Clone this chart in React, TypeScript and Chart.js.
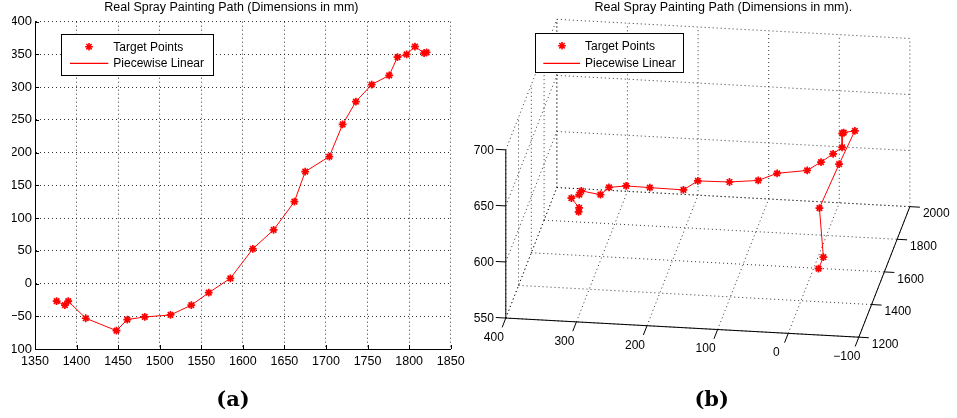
import React, { useEffect, useRef } from 'react';
import { Chart, registerables } from 'chart.js';

Chart.register(...registerables);

// ---------------- data ----------------
const TITLE_A = 'Real Spray Painting Path (Dimensions in mm)';
const TITLE_B = 'Real Spray Painting Path (Dimensions in mm).';
const LEGEND_LABELS = ['Target Points', 'Piecewise Linear'];
const CAPTIONS = ['(a)', '(b)'];

// horizontal coordinate in (a) = depth axis in (b)
const pathX = [1376, 1386, 1390, 1411, 1448, 1461, 1482, 1513, 1538, 1559, 1585, 1612, 1637, 1662, 1675, 1704, 1720, 1736, 1755, 1776, 1786, 1797, 1807, 1818, 1821];
// vertical coordinate in (a) = front axis in (b)
const pathY = [-27, -33, -27, -53, -72, -55, -51, -48, -33, -14, 8, 53, 82, 125, 171, 194, 243, 278, 304, 318, 346, 350, 362, 352, 353];
// height in (b)
const pathZ = [583, 592, 635, 672, 697, 693, 689, 672, 662, 651, 639, 631, 620, 613.5, 611, 598, 596, 594, 589, 579, 580, 575, 570, 560, 556];

const A_X_RANGE = [1350, 1850];
const A_Y_RANGE = [-100, 400];
const A_STEP = 50;

const B_X_TICKS = [400, 300, 200, 100, 0, -100];
const B_D_TICKS = [1200, 1400, 1600, 1800, 2000];
const B_Z_TICKS = [550, 600, 650, 700];

// ---------------- styles ----------------
const RED = '#ff0000';
const GRID = 'rgba(0,0,0,0.8)';
const FONT = "'Liberation Sans', Arial, Helvetica, sans-serif";
const W_A = 470;
const W_B = 487;
const H = 418;
const TITLE_SIZE = 12.5;
const TITLE_PAD_BOTTOM = 6.7;
const TITLE_H = TITLE_SIZE * 1.2 + TITLE_PAD_BOTTOM;
const B_PAD_LEFT = 19.6;

const minus = (v: number) => (v < 0 ? '\u2212' + Math.abs(v) : String(v));

// ---------------- 3D projection for (b) ----------------
const X3 = [-100, 400];
const D3 = [1200, 2000];
const Z3 = [550, 700];
const P0 = [36, 322.3]; // screen position of corner (x=400, d=1200, z=550)
const UX = [-0.7146, -0.0388];
const UD = [0.0646, -0.1655];
const UZ = [0, -1.1373];
function project(x: number, d: number, z: number) {
  const dx = x - X3[1];
  const dd = d - D3[0];
  const dz = z - Z3[0];
  return {
    x: P0[0] + dx * UX[0] + dd * UD[0] + dz * UZ[0],
    y: P0[1] + dx * UX[1] + dd * UD[1] + dz * UZ[1],
  };
}
function unit(v: number[], s: number) {
  const l = Math.hypot(v[0], v[1]);
  return [(v[0] / l) * s, (v[1] / l) * s];
}

function drawStar(ctx: CanvasRenderingContext2D, x: number, y: number, r: number) {
  ctx.beginPath();
  ctx.moveTo(x - r, y);
  ctx.lineTo(x + r, y);
  ctx.moveTo(x, y - r);
  ctx.lineTo(x, y + r);
  const k = r * Math.SQRT1_2;
  ctx.moveTo(x - k, y - k);
  ctx.lineTo(x + k, y + k);
  ctx.moveTo(x - k, y + k);
  ctx.lineTo(x + k, y - k);
  ctx.stroke();
}

function legendPlugin(box: number[], markX: number, textX: number, rows: number[], line: number[]) {
  return {
    id: 'boxLegend',
    afterDatasetsDraw(chart: any) {
      const ctx = chart.ctx as CanvasRenderingContext2D;
      ctx.save();
      ctx.fillStyle = '#fff';
      ctx.fillRect(box[0], box[1], box[2] - box[0], box[3] - box[1]);
      ctx.strokeStyle = '#000';
      ctx.lineWidth = 1;
      ctx.strokeRect(box[0], box[1], box[2] - box[0], box[3] - box[1]);
      ctx.strokeStyle = RED;
      ctx.lineWidth = 1.6;
      drawStar(ctx, markX, rows[0], 3.8);
      ctx.lineWidth = 1.3;
      ctx.beginPath();
      ctx.moveTo(line[0], rows[1] - 0.2);
      ctx.lineTo(line[1], rows[1] - 0.2);
      ctx.stroke();
      ctx.fillStyle = '#000';
      ctx.font = `12px ${FONT}`;
      ctx.textAlign = 'left';
      ctx.textBaseline = 'middle';
      ctx.fillText(LEGEND_LABELS[0], textX, rows[0] + 0.5);
      ctx.fillText(LEGEND_LABELS[1], textX, rows[1] + 0.5);
      ctx.restore();
    },
  };
}

const insideTicks = {
  id: 'insideTicks',
  afterDatasetsDraw(chart: any) {
    const { ctx, chartArea } = chart;
    const sx = chart.scales.x;
    const sy = chart.scales.y;
    ctx.save();
    ctx.strokeStyle = '#000';
    ctx.lineWidth = 1;
    ctx.beginPath();
    for (let v = A_X_RANGE[0]; v <= A_X_RANGE[1]; v += A_STEP) {
      const p = Math.round(sx.getPixelForValue(v)) + 0.5;
      ctx.moveTo(p, chartArea.bottom);
      ctx.lineTo(p, chartArea.bottom - 4);
    }
    for (let v = A_Y_RANGE[0]; v <= A_Y_RANGE[1]; v += A_STEP) {
      const p = Math.round(sy.getPixelForValue(v)) + 0.5;
      ctx.moveTo(chartArea.left, p);
      ctx.lineTo(chartArea.left + 4, p);
    }
    ctx.stroke();
    ctx.restore();
  },
};

const box3D = {
  id: 'box3D',
  beforeDatasetsDraw(chart: any) {
    const ctx = chart.ctx as CanvasRenderingContext2D;
    const sx = chart.scales.x;
    const sy = chart.scales.y;
    const px = (p: { x: number; y: number }) => [sx.getPixelForValue(p.x), sy.getPixelForValue(p.y)];
    const seg = (a: any, b: any) => {
      const A = px(a);
      const B = px(b);
      ctx.moveTo(A[0], A[1]);
      ctx.lineTo(B[0], B[1]);
    };
    ctx.save();
    // dotted grids on floor, back wall, side wall
    ctx.setLineDash([1, 3]);
    ctx.strokeStyle = GRID;
    ctx.lineWidth = 1;
    ctx.beginPath();
    for (const x of B_X_TICKS) {
      seg(project(x, D3[0], Z3[0]), project(x, D3[1], Z3[0]));
      seg(project(x, D3[1], Z3[0]), project(x, D3[1], Z3[1]));
    }
    for (const d of B_D_TICKS) {
      seg(project(X3[1], d, Z3[0]), project(X3[0], d, Z3[0]));
      seg(project(X3[1], d, Z3[0]), project(X3[1], d, Z3[1]));
    }
    for (const z of B_Z_TICKS) {
      seg(project(X3[1], D3[1], z), project(X3[0], D3[1], z));
      seg(project(X3[1], D3[0], z), project(X3[1], D3[1], z));
    }
    ctx.stroke();
    // solid axes
    ctx.setLineDash([]);
    ctx.strokeStyle = '#000';
    ctx.lineWidth = 1;
    ctx.beginPath();
    seg(project(X3[1], D3[0], Z3[0]), project(X3[0], D3[0], Z3[0]));
    seg(project(X3[0], D3[0], Z3[0]), project(X3[0], D3[1], Z3[0]));
    seg(project(X3[1], D3[0], Z3[0]), project(X3[1], D3[0], Z3[1]));
    const tX = unit(UD, -10);
    const tD = unit(UX, -10);
    const tZ = unit(UX, 10);
    const tick = (p: any, t: number[]) => {
      const A = px(p);
      ctx.moveTo(A[0], A[1]);
      ctx.lineTo(A[0] + t[0], A[1] + t[1]);
    };
    for (const x of B_X_TICKS) tick(project(x, D3[0], Z3[0]), tX);
    for (const d of B_D_TICKS) tick(project(X3[0], d, Z3[0]), tD);
    for (const z of B_Z_TICKS) tick(project(X3[1], D3[0], z), tZ);
    ctx.stroke();
    // labels
    ctx.fillStyle = '#000';
    ctx.font = `12px ${FONT}`;
    ctx.textBaseline = 'middle';
    ctx.textAlign = 'center';
    for (const x of B_X_TICKS) {
      const A = px(project(x, D3[0], Z3[0]));
      ctx.fillText(minus(x), A[0] - 12, A[1] + 19.5);
    }
    ctx.textAlign = 'left';
    for (const d of B_D_TICKS) {
      const A = px(project(X3[0], d, Z3[0]));
      ctx.fillText(String(d), A[0] + 13, A[1] + 7.5);
    }
    ctx.textAlign = 'right';
    for (const z of B_Z_TICKS) {
      const A = px(project(X3[1], D3[0], z));
      ctx.fillText(String(z), A[0] - 12, A[1] + 0.5);
    }
    ctx.restore();
  },
};

const titleOpts = (text: string) => ({
  display: true,
  text,
  color: '#000',
  font: { family: FONT, size: TITLE_SIZE, weight: 'normal' as const },
  padding: { top: 0, bottom: TITLE_PAD_BOTTOM },
});

const datasetStyle = {
  showLine: true,
  borderColor: RED,
  borderWidth: 1,
  pointStyle: 'star' as const,
  pointRadius: 3.9,
  pointBorderWidth: 1.7,
  pointBorderColor: RED,
  pointBackgroundColor: RED,
  pointHoverRadius: 3.9,
  clip: false as const,
};

export default function App() {
  const refA = useRef<HTMLCanvasElement>(null);
  const refB = useRef<HTMLCanvasElement>(null);

  useEffect(() => {
    const chartA = new Chart(refA.current as HTMLCanvasElement, {
      type: 'scatter',
      data: {
        datasets: [
          {
            label: LEGEND_LABELS[1],
            data: pathX.map((x, i) => ({ x, y: pathY[i] })),
            ...datasetStyle,
          } as any,
        ],
      },
      options: {
        responsive: false,
        animation: false,
        events: [],
        layout: { padding: { left: 12, right: 19.3, top: 0, bottom: 49 } },
        plugins: {
          legend: { display: false },
          tooltip: { enabled: false },
          title: titleOpts(TITLE_A),
        },
        scales: {
          x: {
            type: 'linear',
            min: A_X_RANGE[0],
            max: A_X_RANGE[1],
            ticks: {
              stepSize: A_STEP,
              autoSkip: false,
              maxRotation: 0,
              color: '#000',
              padding: 5,
              font: { family: FONT, size: 12.5 },
              callback: (v: any) => minus(Number(v)),
            },
            grid: { color: GRID, lineWidth: 1, drawTicks: false },
            border: { display: true, color: '#000', width: 1, dash: [1, 3] },
            afterFit: (s: any) => {
              s.height = 20;
            },
          },
          y: {
            type: 'linear',
            min: A_Y_RANGE[0],
            max: A_Y_RANGE[1],
            ticks: {
              stepSize: A_STEP,
              autoSkip: false,
              color: '#000',
              padding: 3,
              font: { family: FONT, size: 13 },
              callback: (v: any) => minus(Number(v)),
            },
            grid: { color: GRID, lineWidth: 1, drawTicks: false },
            border: { display: true, color: '#000', width: 1, dash: [1, 3] },
            afterFit: (s: any) => {
              s.width = 23;
            },
          },
        },
      } as any,
      plugins: [insideTicks, legendPlugin([61.5, 34.5, 213.5, 75.5], 89, 113.3, [46.7, 63.5], [70, 108.3])],
    });

    const chartB = new Chart(refB.current as HTMLCanvasElement, {
      type: 'scatter',
      data: {
        datasets: [
          {
            label: LEGEND_LABELS[1],
            data: pathX.map((d, i) => project(pathY[i], d, pathZ[i])),
            ...datasetStyle,
          } as any,
        ],
      },
      options: {
        responsive: false,
        animation: false,
        events: [],
        layout: { padding: { left: B_PAD_LEFT, right: 0, top: 0, bottom: 0 } },
        plugins: {
          legend: { display: false },
          tooltip: { enabled: false },
          title: titleOpts(TITLE_B),
        },
        scales: {
          x: { type: 'linear', display: false, min: B_PAD_LEFT, max: W_B },
          y: { type: 'linear', display: false, min: TITLE_H, max: H, reverse: true },
        },
      } as any,
      plugins: [box3D, legendPlugin([65.5, 33.5, 213.5, 72.5], 92, 115, [45.7, 63.5], [73.3, 110])],
    });

    return () => {
      chartA.destroy();
      chartB.destroy();
    };
  }, []);

  const cap: React.CSSProperties = {
    position: 'absolute',
    top: 387,
    width: 100,
    textAlign: 'center',
    font: "bold 21px 'DejaVu Serif', serif",
    lineHeight: '24px',
    color: '#000',
  };

  return (
    <div style={{ position: 'fixed', left: 0, top: 0, width: 957, height: H, background: '#fff', overflow: 'hidden' }}>
      <canvas ref={refA} width={W_A} height={H} style={{ position: 'absolute', left: 0, top: 0, display: 'block' }} />
      <canvas ref={refB} width={W_B} height={H} style={{ position: 'absolute', left: 470, top: 0, display: 'block' }} />
      <div style={{ ...cap, left: 183 }}>{CAPTIONS[0]}</div>
      <div style={{ ...cap, left: 661.7 }}>{CAPTIONS[1]}</div>
    </div>
  );
}
